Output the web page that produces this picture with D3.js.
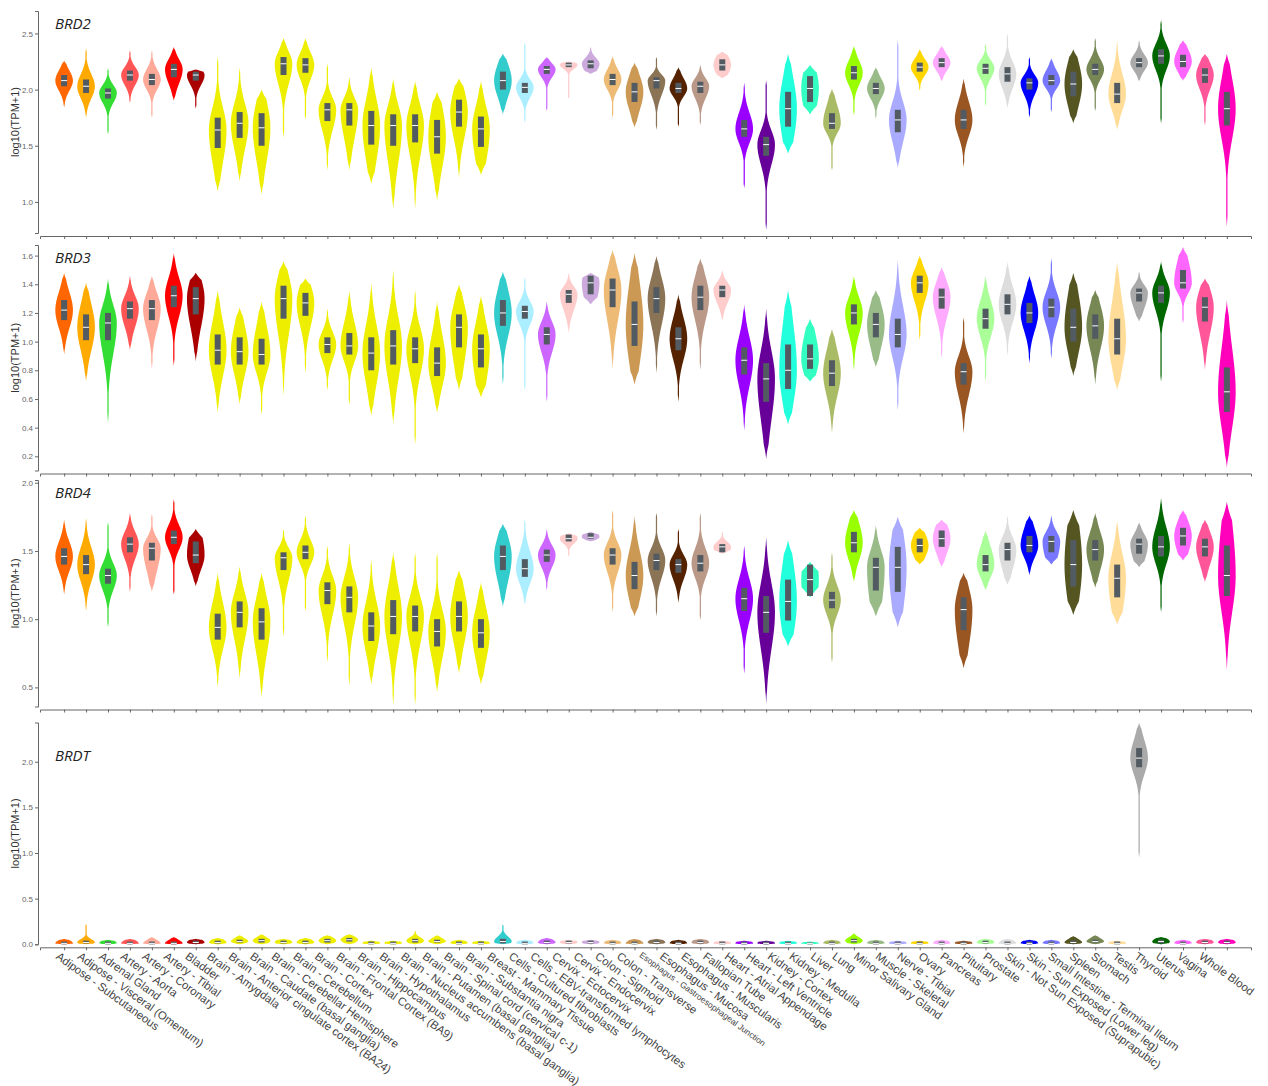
<!DOCTYPE html>
<html>
<head>
<meta charset="utf-8">
<script src="https://cdn.jsdelivr.net/npm/d3@7"></script>
<style>
  body { margin: 0; background: #fff; }
  .axis path, .axis line { stroke: #666; }
  .axis text { fill: #666; font-family: "Liberation Sans", Arial, sans-serif; font-size: 8px; }
  .xlab { fill: #444; font-family: "Liberation Sans", Arial, sans-serif; font-size: 11.4px; }
  .ylab { fill: #333; font-family: "Liberation Sans", Arial, sans-serif; font-size: 11px; }
  .gene { fill: #222; font-family: "Open Sans", "Noto Sans", sans-serif; font-size: 15px; font-style: italic; }
</style>
</head>
<body>
<div id="chart"></div>
<script>
// GTEx tissues, in plot order
const tissues = [
  "Adipose - Subcutaneous", "Adipose - Visceral (Omentum)", "Adrenal Gland", "Artery - Aorta",
  "Artery - Coronary", "Artery - Tibial", "Bladder", "Brain - Amygdala",
  "Brain - Anterior cingulate cortex (BA24)", "Brain - Caudate (basal ganglia)",
  "Brain - Cerebellar Hemisphere", "Brain - Cerebellum", "Brain - Cortex",
  "Brain - Frontal Cortex (BA9)", "Brain - Hippocampus", "Brain - Hypothalamus",
  "Brain - Nucleus accumbens (basal ganglia)", "Brain - Putamen (basal ganglia)",
  "Brain - Spinal cord (cervical c-1)", "Brain - Substantia nigra", "Breast - Mammary Tissue",
  "Cells - Cultured fibroblasts", "Cells - EBV-transformed lymphocytes", "Cervix - Ectocervix",
  "Cervix - Endocervix", "Colon - Sigmoid", "Colon - Transverse",
  "Esophagus - Gastroesophageal Junction", "Esophagus - Mucosa", "Esophagus - Muscularis",
  "Fallopian Tube", "Heart - Atrial Appendage", "Heart - Left Ventricle", "Kidney - Cortex",
  "Kidney - Medulla", "Liver", "Lung", "Minor Salivary Gland", "Muscle - Skeletal",
  "Nerve - Tibial", "Ovary", "Pancreas", "Pituitary", "Prostate",
  "Skin - Not Sun Exposed (Suprapubic)", "Skin - Sun Exposed (Lower leg)",
  "Small Intestine - Terminal Ileum", "Spleen", "Stomach", "Testis", "Thyroid", "Uterus",
  "Vagina", "Whole Blood"
];

const tissueColors = [
  "#FF6600", "#FFAA00", "#33DD33", "#FF5555", "#FFAA99", "#FF0000", "#AA0000", "#EEEE00",
  "#EEEE00", "#EEEE00", "#EEEE00", "#EEEE00", "#EEEE00", "#EEEE00", "#EEEE00", "#EEEE00",
  "#EEEE00", "#EEEE00", "#EEEE00", "#EEEE00", "#33CCCC", "#AAEEFF", "#CC66FF", "#FFCCCC",
  "#CCAADD", "#EEBB77", "#CC9955", "#8B7355", "#552200", "#BB9988", "#FFCCCC", "#9900FF",
  "#660099", "#22FFDD", "#33FFC2", "#AABB66", "#99FF00", "#99BB88", "#AAAAFF", "#FFD700",
  "#FFAAFF", "#995522", "#AAFF99", "#DDDDDD", "#0000FF", "#7777FF", "#555522", "#778855",
  "#FFDD99", "#AAAAAA", "#006600", "#FF66FF", "#FF5599", "#FF00BB"
];

// per tissue: [low tip, q1, median, q3, high tip]  (log10(TPM+1))
const brd2 = [
  [1.84,2.03,2.08,2.13,2.26],[1.75,1.97,2.03,2.09,2.37],[1.60,1.92,1.97,2.01,2.19],[1.88,2.08,2.13,2.17,2.35],
  [1.75,2.04,2.09,2.14,2.35],[1.90,2.11,2.18,2.23,2.38],[1.83,2.08,2.13,2.16,2.18],[1.09,1.48,1.64,1.75,2.30],
  [1.18,1.57,1.70,1.80,2.20],[1.06,1.50,1.66,1.79,2.00],[1.57,2.13,2.23,2.29,2.46],[1.73,2.15,2.22,2.28,2.46],
  [1.28,1.72,1.82,1.88,2.23],[1.28,1.68,1.82,1.88,2.11],[1.16,1.51,1.68,1.81,2.20],[0.93,1.50,1.68,1.78,2.10],
  [0.94,1.53,1.68,1.78,2.08],[1.01,1.43,1.58,1.73,1.98],[1.21,1.67,1.80,1.91,2.10],[1.24,1.49,1.65,1.76,2.08],
  [1.78,2.00,2.08,2.16,2.32],[1.70,1.97,2.02,2.06,2.42],[1.81,2.14,2.18,2.21,2.29],[1.92,2.20,2.22,2.24,2.25],
  [2.14,2.19,2.23,2.26,2.38],[1.75,2.04,2.09,2.14,2.30],[1.66,1.89,1.98,2.06,2.24],[1.64,2.01,2.08,2.11,2.29],
  [1.67,1.97,2.01,2.06,2.20],[1.68,1.97,2.03,2.07,2.22],[2.10,2.17,2.22,2.27,2.34],[1.12,1.58,1.65,1.73,2.06],
  [0.75,1.41,1.51,1.58,2.08],[1.43,1.67,1.83,1.98,2.32],[1.78,1.89,2.01,2.12,2.22],[1.28,1.65,1.70,1.79,2.01],
  [1.77,2.09,2.15,2.21,2.39],[1.74,1.96,2.01,2.06,2.20],[1.30,1.62,1.73,1.82,2.44],[1.99,2.16,2.20,2.24,2.36],
  [2.07,2.20,2.24,2.28,2.39],[1.31,1.65,1.73,1.82,2.10],[1.85,2.14,2.19,2.23,2.41],[1.83,2.07,2.14,2.20,2.50],
  [1.75,2.00,2.06,2.10,2.29],[1.80,2.04,2.08,2.13,2.28],[1.70,1.94,2.05,2.16,2.36],[1.81,2.13,2.18,2.23,2.46],
  [1.64,1.88,1.96,2.06,2.44],[2.07,2.20,2.24,2.28,2.44],[1.70,2.23,2.30,2.36,2.62],[2.08,2.20,2.25,2.31,2.44],
  [1.68,2.06,2.13,2.19,2.32],[0.78,1.68,1.83,1.98,2.32]
];

const brd3 = [
  [0.91,1.15,1.22,1.29,1.48],[0.72,1.01,1.10,1.19,1.41],[0.43,1.01,1.13,1.20,1.44],[0.94,1.16,1.23,1.28,1.46],
  [0.81,1.15,1.23,1.29,1.46],[0.83,1.24,1.32,1.39,1.62],[0.86,1.19,1.30,1.38,1.48],[0.50,0.84,0.94,1.05,1.36],
  [0.56,0.84,0.93,1.03,1.24],[0.49,0.84,0.91,1.02,1.28],[0.62,1.16,1.30,1.39,1.56],[0.78,1.18,1.27,1.34,1.44],
  [0.66,0.92,0.98,1.03,1.23],[0.56,0.91,0.97,1.06,1.36],[0.48,0.80,0.92,1.03,1.41],[0.42,0.84,0.97,1.08,1.50],
  [0.28,0.85,0.95,1.03,1.36],[0.50,0.76,0.85,0.96,1.28],[0.66,0.96,1.10,1.19,1.40],[0.61,0.82,0.95,1.05,1.32],
  [0.70,1.11,1.20,1.29,1.49],[0.66,1.16,1.21,1.25,1.45],[0.58,0.98,1.05,1.10,1.28],[1.06,1.27,1.33,1.36,1.48],
  [1.26,1.33,1.41,1.46,1.48],[0.81,1.24,1.36,1.44,1.64],[0.70,0.97,1.12,1.28,1.62],[0.78,1.20,1.30,1.38,1.60],
  [0.58,0.94,1.02,1.10,1.33],[0.80,1.22,1.31,1.39,1.58],[1.14,1.31,1.36,1.39,1.50],[0.38,0.77,0.87,0.96,1.26],
  [0.18,0.58,0.74,0.85,1.23],[0.42,0.67,0.80,0.98,1.36],[0.72,0.81,0.88,0.98,1.16],[0.36,0.69,0.78,0.87,1.09],
  [0.80,1.12,1.20,1.26,1.46],[0.82,1.03,1.12,1.20,1.36],[0.52,0.96,1.05,1.16,1.57],[1.01,1.34,1.41,1.46,1.60],
  [0.88,1.23,1.31,1.37,1.52],[0.36,0.70,0.79,0.85,1.17],[0.72,1.09,1.16,1.23,1.46],[0.90,1.19,1.26,1.33,1.56],
  [0.85,1.13,1.20,1.27,1.46],[0.88,1.17,1.24,1.30,1.58],[0.76,1.00,1.10,1.23,1.48],[0.70,1.02,1.11,1.19,1.36],
  [0.66,0.91,1.02,1.16,1.56],[1.14,1.28,1.34,1.37,1.49],[0.72,1.27,1.34,1.39,1.56],[1.13,1.37,1.41,1.50,1.66],
  [0.80,1.14,1.24,1.31,1.44],[0.12,0.51,0.65,0.82,1.29]
];

const brd4 = [
  [1.18,1.40,1.46,1.52,1.73],[1.06,1.33,1.40,1.47,1.74],[0.94,1.26,1.32,1.37,1.71],[1.20,1.49,1.55,1.60,1.78],
  [1.20,1.43,1.52,1.56,1.77],[1.18,1.55,1.60,1.65,1.88],[1.24,1.41,1.47,1.57,1.66],[0.50,0.85,0.94,1.04,1.34],
  [0.56,0.94,1.05,1.13,1.39],[0.42,0.85,0.98,1.08,1.34],[0.87,1.36,1.45,1.49,1.66],[1.06,1.44,1.49,1.54,1.76],
  [0.68,1.11,1.21,1.27,1.54],[0.51,1.05,1.16,1.24,1.56],[0.52,0.84,0.95,1.05,1.44],[0.37,0.89,1.02,1.14,1.49],
  [0.37,0.91,1.02,1.10,1.49],[0.46,0.80,0.91,1.00,1.49],[0.60,0.91,1.02,1.13,1.36],[0.52,0.79,0.90,1.00,1.27],
  [1.09,1.36,1.46,1.54,1.70],[1.10,1.31,1.37,1.44,1.74],[1.21,1.42,1.47,1.51,1.66],[1.46,1.57,1.59,1.62,1.63],
  [1.57,1.59,1.60,1.63,1.64],[1.05,1.40,1.47,1.52,1.80],[1.02,1.22,1.32,1.42,1.76],[1.02,1.36,1.43,1.48,1.78],
  [1.12,1.34,1.40,1.44,1.66],[0.99,1.35,1.41,1.47,1.78],[1.48,1.49,1.53,1.55,1.64],[0.60,1.06,1.15,1.23,1.54],
  [0.38,0.90,1.05,1.17,1.60],[0.80,0.99,1.13,1.29,1.58],[1.16,1.17,1.29,1.40,1.42],[0.68,1.08,1.14,1.20,1.49],
  [1.27,1.49,1.56,1.64,1.80],[1.02,1.21,1.38,1.45,1.69],[0.94,1.20,1.38,1.53,1.75],[1.40,1.49,1.54,1.59,1.67],
  [1.38,1.53,1.59,1.65,1.73],[0.64,0.92,1.07,1.16,1.34],[1.21,1.35,1.40,1.47,1.65],[1.25,1.43,1.51,1.56,1.76],
  [1.32,1.49,1.54,1.61,1.76],[1.40,1.49,1.57,1.61,1.76],[1.03,1.24,1.40,1.58,1.80],[1.23,1.43,1.51,1.58,1.78],
  [0.96,1.16,1.30,1.40,1.73],[1.38,1.48,1.55,1.59,1.71],[1.05,1.46,1.53,1.61,1.89],[1.43,1.54,1.61,1.67,1.80],
  [1.27,1.46,1.53,1.59,1.73],[0.63,1.17,1.32,1.54,1.86]
];

const brdt = [
  [0,0.00,0.01,0.03,0.06],[0,0.01,0.02,0.04,0.22],[0,0.00,0.01,0.03,0.05],[0,0.00,0.01,0.03,0.06],
  [0,0.00,0.01,0.03,0.08],[0,0.00,0.01,0.03,0.08],[0,0.01,0.02,0.04,0.06],[0,0.01,0.02,0.04,0.07],
  [0,0.02,0.03,0.05,0.10],[0,0.02,0.04,0.06,0.11],[0,0.01,0.02,0.04,0.06],[0,0.01,0.02,0.04,0.07],
  [0,0.02,0.04,0.06,0.10],[0,0.03,0.05,0.07,0.11],[0,0.00,0.01,0.03,0.04],[0,0.00,0.01,0.03,0.04],
  [0,0.02,0.04,0.06,0.15],[0,0.02,0.03,0.05,0.10],[0,0.00,0.01,0.03,0.05],[0,0.00,0.01,0.03,0.04],
  [0,0.01,0.03,0.06,0.22],[0,0.00,0.01,0.03,0.05],[0,0.01,0.02,0.04,0.07],[0,0.01,0.02,0.04,0.05],
  [0,0.01,0.02,0.04,0.05],[0,0.00,0.01,0.03,0.05],[0,0.00,0.01,0.03,0.06],[0,0.01,0.02,0.04,0.06],
  [0,0.00,0.01,0.03,0.05],[0,0.01,0.02,0.04,0.06],[0,0.00,0.01,0.03,0.04],[0,0.00,0.01,0.03,0.04],
  [0,0.00,0.01,0.03,0.04],[0,0.00,0.01,0.03,0.04],[0,0.00,0.01,0.02,0.03],[0,0.00,0.01,0.03,0.05],
  [0,0.02,0.04,0.06,0.12],[0,0.00,0.01,0.03,0.05],[0,0.00,0.01,0.03,0.04],[0,0.00,0.01,0.03,0.04],
  [0,0.00,0.01,0.03,0.05],[0,0.00,0.01,0.03,0.04],[0,0.01,0.02,0.04,0.06],[0,0.00,0.01,0.03,0.06],
  [0,0.00,0.01,0.03,0.05],[0,0.00,0.01,0.03,0.05],[0,0.01,0.02,0.04,0.09],[0,0.02,0.03,0.05,0.10],
  [0,0.00,0.01,0.03,0.04],[0.95,1.94,2.04,2.15,2.43],[0,0.01,0.03,0.05,0.08],[0,0.00,0.01,0.03,0.05],
  [0,0.01,0.02,0.04,0.06],[0,0.01,0.02,0.04,0.06]
];

const genes = ["BRD2", "BRD3", "BRD4", "BRDT"];
const ticks2 = [1.0, 1.5, 2.0, 2.5];
const ticks3 = [0.2, 0.4, 0.6, 0.8, 1.0, 1.2, 1.4, 1.6];
const ticks4 = [0.5, 1.0, 1.5, 2.0];
const ticksT = [0.0, 0.5, 1.0, 1.5, 2.0];

const width = 1268, height = 1086;

const svg = d3.select("#chart").append("svg")
    .attr("width", width)
    .attr("height", height);

const x = d3.scalePoint()
    .domain(tissues)
    .range([40, 1251])
    .padding(1.1);

// the tissue names sit on a slightly tighter spacing than the ticks
const xLabel = d3.scalePoint()
    .domain(tissues)
    .range([60, 1203]);

// panel layout: y range of each axis
const panels = [
  { gene: genes[0], data: brd2, domain: [0.723, 2.70], ticks: ticks2, top: 11, bottom: 233 },
  { gene: genes[1], data: brd3, domain: [0.101, 1.674], ticks: ticks3, top: 245, bottom: 470.5 },
  { gene: genes[2], data: brd4, domain: [0.36, 2.02], ticks: ticks4, top: 480, bottom: 706.5 },
  { gene: genes[3], data: brdt, domain: [0, 2.43], ticks: ticksT, top: 722.5, bottom: 944.3 }
];

const halfW = 8.8;

// violin outline from the five read values
function outline(s, y, cx) {
  const [lo, q1, med, q3, hi] = s;
  const sU = Math.max(q3 - med, 0.008) / 0.674 * 1.2;
  const sL = Math.max(med - q1, 0.008) / 0.674 * 1.2;
  const n = 90;
  const pts = [];
  for (let i = 0; i <= n; i++) {
    const v = lo + (hi - lo) * i / n;
    const sd = v >= med ? sU : sL;
    const z = (v - med) / sd;
    const g = Math.exp(-0.5 * z * z);
    const dist = Math.min(v - lo, hi - v);
    const taper = Math.min(1, dist / (0.35 * sd));
    pts.push([v, Math.max(g, 0.07) * taper]);
  }
  const area = d3.area()
      .y(d => y(d[0]))
      .x0(d => cx - halfW * d[1])
      .x1(d => cx + halfW * d[1])
      .curve(d3.curveMonotoneY);
  return area(pts);
}

panels.forEach((p, pi) => {
  const y = d3.scaleLinear().domain(p.domain).range([p.bottom, p.top]);
  const g = svg.append("g");

  // y axis
  g.append("g")
      .attr("class", "axis")
      .attr("transform", "translate(38,0)")
      .call(d3.axisLeft(y).tickValues(p.ticks).tickFormat(d3.format(".1f")).tickSize(3).tickSizeOuter(3))
      .call(a => a.selectAll("text").attr("x", -5));

  // x axis
  const xa = g.append("g")
      .attr("class", "axis")
      .attr("transform", `translate(0,${p.bottom + 3})`)
      .call(d3.axisBottom(x).tickSize(3).tickSizeOuter(3));
  xa.selectAll("text").remove();

  // y label
  g.append("text")
      .attr("class", "ylab")
      .attr("transform", `translate(19,${(p.top + p.bottom) / 2}) rotate(-90)`)
      .attr("text-anchor", "middle")
      .text("log10(TPM+1)");

  // gene name
  g.append("text")
      .attr("class", "gene")
      .attr("x", 55)
      .attr("y", p.top + 18 + (pi === 3 ? 20 : 0))
      .text(p.gene);

  // violins
  const vg = g.selectAll(".violin")
      .data(p.data)
      .enter()
      .append("g")
      .attr("class", "violin");

  vg.append("path")
      .attr("d", (d, i) => outline(d, y, x(tissues[i])))
      .attr("fill", (d, i) => tissueColors[i]);

  vg.append("rect")
      .attr("x", (d, i) => x(tissues[i]) - 3)
      .attr("width", 6)
      .attr("y", d => y(d[3]))
      .attr("height", d => Math.max(y(d[1]) - y(d[3]), 1))
      .attr("fill", "#535b62");

  vg.append("line")
      .attr("x1", (d, i) => x(tissues[i]) - 3)
      .attr("x2", (d, i) => x(tissues[i]) + 3)
      .attr("y1", d => y(d[2]))
      .attr("y2", d => y(d[2]))
      .attr("stroke", "#fff")
      .attr("stroke-width", 1);

  // tissue names under the last panel
  if (pi === panels.length - 1) {
    g.selectAll(".xlab")
        .data(tissues)
        .enter()
        .append("text")
        .attr("class", "xlab")
        .attr("transform", d => `translate(${xLabel(d)},${p.bottom + 7}) rotate(36)`)
        .attr("dy", "0.72em")
        .style("font-size", d => d === "Esophagus - Gastroesophageal Junction" ? "8.5px" : null)
        .text(d => d);
  }
});
</script>
</body>
</html>
